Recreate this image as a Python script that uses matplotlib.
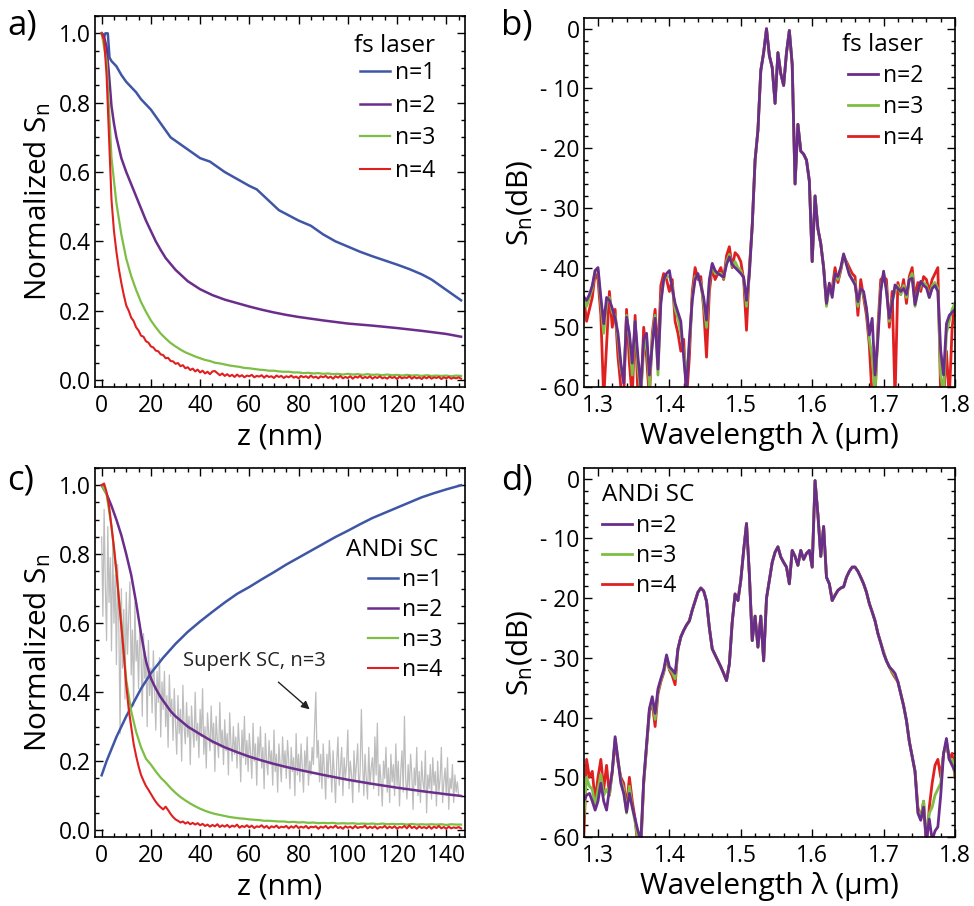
import numpy as np
import matplotlib.pyplot as plt
from matplotlib.ticker import MultipleLocator

plt.rcParams['font.family'] = ['Open Sans', 'DejaVu Sans']
plt.rcParams['mathtext.fontset'] = 'custom'
plt.rcParams['mathtext.rm'] = 'Open Sans'
plt.rcParams['mathtext.it'] = 'Open Sans'

BLUE = '#3F56A6'
PURPLE = '#6A2D8C'
GREEN = '#7DBE44'
RED = '#E02020'
GREY = '#BDBDBD'

# ---------------- panel a: fs laser, approach curves ----------------
z_a_n1 = [0, 1, 1.5, 2.5, 3.2, 4, 6, 8, 10, 12, 14, 16, 18, 20, 22, 24, 26, 28, 30, 32, 35, 38, 40,
          44, 47, 50, 55, 60, 63, 66, 69, 72, 76, 80, 85, 90, 95, 100, 105, 110, 115, 120, 125,
          130, 134, 138, 142, 146]
a_n1 = [1.0, 0.99, 1.0, 1.0, 0.93, 0.92, 0.905, 0.88, 0.86, 0.845, 0.83, 0.81, 0.795, 0.78, 0.76,
        0.74, 0.72, 0.70, 0.69, 0.68, 0.665, 0.65, 0.64, 0.63, 0.615, 0.60, 0.58, 0.56, 0.55, 0.53,
        0.51, 0.49, 0.475, 0.46, 0.445, 0.42, 0.40, 0.385, 0.37, 0.357, 0.345, 0.333, 0.32, 0.305,
        0.29, 0.27, 0.25, 0.23]

z_a_n2 = [0, 1, 2, 3, 4, 5, 6, 8, 10, 12, 14, 16, 18, 20, 22, 24, 26, 28, 30, 35, 40, 45, 50, 55,
          60, 65, 70, 75, 80, 90, 100, 110, 120, 130, 140, 146]
a_n2 = [1.0, 0.99, 0.96, 0.88, 0.79, 0.74, 0.70, 0.64, 0.60, 0.565, 0.53, 0.495, 0.46, 0.43, 0.40,
        0.375, 0.352, 0.335, 0.318, 0.285, 0.262, 0.245, 0.232, 0.222, 0.212, 0.203, 0.195, 0.188,
        0.182, 0.172, 0.163, 0.157, 0.15, 0.142, 0.133, 0.125]

z_a_n3 = list(range(0, 147, 2))
a_n3 = [1.0, 0.92, 0.64, 0.51, 0.42, 0.35, 0.30, 0.26, 0.225, 0.197, 0.172, 0.152, 0.134, 0.12,
        0.107, 0.097, 0.088, 0.08, 0.074, 0.068, 0.063, 0.058, 0.055, 0.05, 0.048, 0.045, 0.042,
        0.04, 0.038, 0.035, 0.034, 0.032, 0.03, 0.029, 0.027, 0.027, 0.025, 0.024, 0.024, 0.022,
        0.022, 0.02, 0.021, 0.019, 0.02, 0.018, 0.019, 0.017, 0.018, 0.016, 0.018, 0.016, 0.017,
        0.015, 0.017, 0.015, 0.016, 0.014, 0.016, 0.014, 0.015, 0.013, 0.015, 0.013, 0.014, 0.012,
        0.014, 0.012, 0.013, 0.012, 0.013, 0.011, 0.013, 0.012]

z_a_n4 = list(range(0, 147))
a_n4 = [1.0, 0.98, 0.88, 0.70, 0.52, 0.43, 0.37, 0.32, 0.28, 0.245,
        0.215, 0.2, 0.18, 0.17, 0.152, 0.143, 0.128, 0.125, 0.112, 0.108,
        0.097, 0.094, 0.085, 0.083, 0.074, 0.072, 0.063, 0.064, 0.055, 0.054,
        0.047, 0.049, 0.04, 0.043, 0.034, 0.037, 0.029, 0.033, 0.025, 0.03,
        0.022, 0.027, 0.019, 0.024, 0.017, 0.025, 0.026, 0.02, 0.014, 0.019,
        0.012, 0.017, 0.011, 0.015, 0.009, 0.016, 0.01, 0.014, 0.008, 0.013,
        0.011, 0.015, 0.008, 0.012, 0.01, 0.014, 0.007, 0.013, 0.009, 0.011,
        0.006, 0.013, 0.009, 0.012, 0.006, 0.011, 0.008, 0.013, 0.007, 0.01,
        0.005, 0.012, 0.008, 0.011, 0.006, 0.013, 0.007, 0.01, 0.005, 0.011,
        0.008, 0.012, 0.006, 0.01, 0.004, 0.011, 0.007, 0.012, 0.005, 0.009,
        0.006, 0.011, 0.004, 0.01, 0.007, 0.012, 0.005, 0.009, 0.006, 0.011,
        0.004, 0.009, 0.006, 0.011, 0.005, 0.008, 0.004, 0.01, 0.006, 0.009,
        0.003, 0.01, 0.005, 0.008, 0.006, 0.011, 0.004, 0.009, 0.005, 0.008,
        0.003, 0.009, 0.005, 0.01, 0.004, 0.008, 0.006, 0.009, 0.003, 0.008,
        0.005, 0.009, 0.004, 0.007, 0.005, 0.008, 0.004]

# ---------------- panel c: ANDi SC, approach curves ----------------
z_c_n1 = [0, 2, 4, 6, 8, 10, 13, 16, 20, 25, 30, 35, 40, 45, 50, 55, 60, 65, 70, 75, 80, 85, 90,
          95, 100, 105, 110, 115, 120, 125, 130, 135, 140, 146]
c_n1 = [0.159, 0.2, 0.235, 0.27, 0.3, 0.33, 0.37, 0.41, 0.455, 0.5, 0.54, 0.575, 0.605, 0.633,
        0.66, 0.685, 0.705, 0.727, 0.748, 0.77, 0.79, 0.81, 0.83, 0.85, 0.868, 0.887, 0.905, 0.92,
        0.935, 0.95, 0.965, 0.977, 0.988, 1.0]

z_c_n2 = [0, 2, 4, 6, 8, 10, 12, 14, 16, 18, 20, 22, 24, 26, 28, 30, 35, 40, 45, 50, 55, 60, 65,
          70, 75, 80, 90, 100, 110, 120, 130, 140, 146]
c_n2 = [1.0, 0.975, 0.94, 0.9, 0.855, 0.8, 0.74, 0.66, 0.57, 0.49, 0.44, 0.41, 0.385, 0.365,
        0.345, 0.33, 0.3, 0.278, 0.257, 0.24, 0.226, 0.213, 0.202, 0.192, 0.183, 0.175, 0.16,
        0.146, 0.134, 0.123, 0.113, 0.104, 0.099]

z_c_n3 = list(range(0, 147, 2))
c_n3 = [1.0, 0.975, 0.88, 0.75, 0.6, 0.435, 0.345, 0.285, 0.24, 0.207, 0.19, 0.17, 0.152, 0.138,
        0.122, 0.108, 0.096, 0.086, 0.077, 0.069, 0.062, 0.056, 0.051, 0.047, 0.044, 0.041, 0.038,
        0.036, 0.034, 0.033, 0.031, 0.03, 0.029, 0.027, 0.027, 0.026, 0.025, 0.025, 0.023, 0.024,
        0.022, 0.023, 0.021, 0.022, 0.02, 0.021, 0.02, 0.021, 0.019, 0.02, 0.019, 0.02, 0.018,
        0.019, 0.018, 0.019, 0.017, 0.019, 0.017, 0.018, 0.017, 0.018, 0.016, 0.018, 0.016, 0.017,
        0.016, 0.017, 0.016, 0.017, 0.015, 0.017, 0.016, 0.016]

z_c_n4 = list(range(0, 147))
c_n4 = [1.0, 1.005, 0.98, 0.94, 0.88, 0.82, 0.75, 0.67, 0.59, 0.51,
        0.42, 0.35, 0.3, 0.25, 0.215, 0.185, 0.16, 0.143, 0.128, 0.117,
        0.105, 0.093, 0.082, 0.073, 0.066, 0.06, 0.068, 0.058, 0.047, 0.038,
        0.031, 0.027, 0.022, 0.025, 0.019, 0.023, 0.017, 0.021, 0.016, 0.02,
        0.014, 0.018, 0.012, 0.016, 0.01, 0.015, 0.011, 0.017, 0.009, 0.014,
        0.01, 0.015, 0.008, 0.013, 0.01, 0.016, 0.007, 0.012, 0.009, 0.014,
        0.008, 0.013, 0.006, 0.011, 0.009, 0.014, 0.007, 0.012, 0.005, 0.011,
        0.008, 0.013, 0.006, 0.01, 0.008, 0.012, 0.005, 0.011, 0.007, 0.013,
        0.006, 0.01, 0.007, 0.012, 0.005, 0.01, 0.008, 0.011, 0.004, 0.01,
        0.007, 0.012, 0.005, 0.01, 0.007, 0.013, 0.006, 0.009, 0.004, 0.011,
        0.007, 0.01, 0.005, 0.012, 0.006, 0.009, 0.008, 0.013, 0.005, 0.01,
        0.006, 0.011, 0.004, 0.009, 0.007, 0.012, 0.005, 0.01, 0.006, 0.011,
        0.004, 0.009, 0.007, 0.012, 0.005, 0.014, 0.006, 0.01, 0.004, 0.011,
        0.006, 0.009, 0.005, 0.011, 0.004, 0.01, 0.006, 0.012, 0.005, 0.009,
        0.004, 0.01, 0.005, 0.008, 0.006, 0.009, 0.005]

# SuperK SC n=3 reference trace, sampled every 0.5 nm
z_superk = np.arange(0, 145.5, 0.5)
superk_n3 = [0.85, 0.62, 0.93, 0.71, 0.55, 0.88, 0.66, 0.79, 0.52, 0.84,
             0.60, 0.74, 0.48, 0.77, 0.58, 0.28, 0.70, 0.47, 0.64, 0.38,
             0.69, 0.51, 0.62, 0.72, 0.45, 0.58, 0.36, 0.66, 0.49, 0.55,
             0.41, 0.60, 0.52, 0.33, 0.57, 0.44, 0.50, 0.30, 0.55, 0.39,
             0.47, 0.34, 0.52, 0.41, 0.29, 0.46, 0.37, 0.50, 0.27, 0.43,
             0.35, 0.46, 0.30, 0.39, 0.24, 0.45, 0.33, 0.38, 0.26, 0.41,
             0.31, 0.22, 0.39, 0.28, 0.35, 0.20, 0.42, 0.30, 0.25, 0.37,
             0.27, 0.33, 0.19, 0.36, 0.29, 0.24, 0.40, 0.26, 0.31, 0.21,
             0.35, 0.27, 0.41, 0.22, 0.30, 0.18, 0.34, 0.28, 0.23, 0.36,
             0.25, 0.31, 0.17, 0.33, 0.26, 0.21, 0.37, 0.24, 0.29, 0.19,
             0.32, 0.23, 0.28, 0.16, 0.34, 0.25, 0.20, 0.30, 0.22, 0.27,
             0.18, 0.31, 0.24, 0.14, 0.29, 0.21, 0.33, 0.19, 0.26, 0.17,
             0.28, 0.22, 0.15, 0.31, 0.20, 0.25, 0.13, 0.27, 0.21, 0.30,
             0.18, 0.24, 0.12, 0.28, 0.20, 0.16, 0.26, 0.19, 0.23, 0.13,
             0.29, 0.17, 0.22, 0.11, 0.25, 0.19, 0.14, 0.27, 0.18, 0.23,
             0.15, 0.26, 0.20, 0.12, 0.24, 0.17, 0.21, 0.10, 0.28, 0.16,
             0.22, 0.14, 0.25, 0.18, 0.11, 0.23, 0.17, 0.27, 0.13, 0.20,
             0.16, 0.24, 0.19, 0.30, 0.40, 0.21, 0.26, 0.14, 0.22, 0.12,
             0.25, 0.17, 0.09, 0.22, 0.15, 0.26, 0.19, 0.11, 0.23, 0.16,
             0.08, 0.20, 0.27, 0.13, 0.18, 0.24, 0.10, 0.21, 0.15, 0.19,
             0.29, 0.12, 0.20, 0.16, 0.08, 0.23, 0.14, 0.19, 0.25, 0.11,
             0.17, 0.35, 0.20, 0.10, 0.22, 0.15, 0.09, 0.24, 0.13, 0.18,
             0.21, 0.12, 0.27, 0.16, 0.31, 0.10, 0.19, 0.14, 0.07, 0.20,
             0.15, 0.24, 0.11, 0.18, 0.08, 0.22, 0.14, 0.19, 0.10, 0.25,
             0.13, 0.20, 0.07, 0.17, 0.23, 0.11, 0.33, 0.15, 0.09, 0.19,
             0.12, 0.22, 0.16, 0.06, 0.18, 0.13, 0.24, 0.10, 0.17, 0.08,
             0.20, 0.14, 0.11, 0.23, 0.05, 0.16, 0.12, 0.19, 0.09, 0.21,
             0.13, 0.17, 0.07, 0.20, 0.11, 0.15, 0.24, 0.08, 0.14, 0.18,
             0.10, 0.21, 0.06, 0.15, 0.12, 0.19, 0.08, 0.16, 0.11, 0.14,
             0.10]

# ---------------- panels b, d: spectra (dB), wavelength grid 1.280..1.800 step 0.004 ----------------
wl = np.round(np.linspace(1.28, 1.80, 131), 3)

b_n2 = [-44.9, -45.5, -44.5, -43.0, -40.5, -40.0, -45.0, -49.4, -45.0, -45.5,
        -46.8, -48.5, -51.0, -56.0, -59.4, -48.3, -51.0, -56.0, -49.0, -55.0,
        -60.0, -52.0, -51.0, -58.0, -53.0, -48.5, -57.0, -46.0, -42.0, -41.0,
        -40.5, -43.5, -46.0, -47.5, -49.0, -55.0, -60.5, -52.0, -45.5, -42.0,
        -41.0, -43.0, -45.0, -48.8, -42.0, -39.3, -40.5, -41.0, -41.3, -41.6,
        -39.5, -38.2, -39.5, -40.0, -40.5, -41.0, -41.6, -45.5, -41.0, -33.0,
        -22.0, -17.0, -7.0, -4.0, 0.0, -4.5, -6.5, -12.5, -4.0, -7.5,
        -9.5, -4.0, -0.3, -6.0, -26.0, -16.0, -20.5, -21.0, -22.0, -25.5,
        -39.0, -28.0, -33.5, -36.0, -40.0, -46.0, -42.6, -45.0, -41.0, -41.5,
        -40.0, -37.7, -39.5, -41.2, -42.0, -42.9, -45.7, -43.5, -44.0, -46.8,
        -51.3, -48.5, -58.0, -52.0, -44.0, -40.6, -44.0, -48.5, -46.0, -42.9,
        -43.5, -44.0, -43.5, -44.5, -42.0, -41.8, -46.2, -44.0, -42.3, -43.0,
        -43.4, -45.0, -43.5, -43.0, -44.0, -53.9, -58.0, -49.4, -48.0, -47.5,
        -47.0]
b_n3 = [-44.9, -46.5, -45.0, -43.5, -40.5, -40.5, -46.0, -51.0, -46.0, -45.0,
        -47.5, -48.0, -52.0, -57.0, -59.0, -48.0, -52.0, -58.0, -49.0, -57.0,
        -61.0, -54.0, -52.0, -60.0, -52.0, -48.0, -58.0, -45.5, -42.0, -41.5,
        -41.5, -43.0, -47.0, -48.5, -51.0, -54.0, -58.0, -53.0, -45.0, -41.5,
        -41.5, -42.5, -46.0, -50.0, -42.5, -39.5, -41.0, -41.0, -41.0, -41.8,
        -39.0, -37.8, -39.8, -39.0, -40.0, -40.5, -41.8, -46.5, -41.0, -33.0,
        -22.0, -17.0, -7.0, -4.0, 0.0, -4.5, -6.5, -12.5, -4.0, -7.5,
        -9.5, -4.0, -0.3, -6.0, -26.0, -16.0, -20.5, -21.0, -22.0, -25.5,
        -39.0, -28.0, -33.5, -36.0, -40.0, -46.5, -43.0, -44.5, -41.0, -42.0,
        -40.2, -38.0, -39.3, -41.0, -42.0, -42.5, -46.5, -43.5, -44.5, -47.0,
        -52.0, -55.0, -61.0, -51.0, -43.5, -41.0, -43.5, -49.0, -45.5, -44.0,
        -43.0, -44.5, -43.0, -45.0, -42.0, -41.0, -46.5, -44.0, -43.0, -42.5,
        -43.0, -45.0, -43.0, -42.5, -43.5, -58.0, -61.0, -51.0, -49.0, -47.0,
        -46.0]
b_n4 = [-44.9, -49.0, -47.0, -45.0, -41.0, -42.0, -48.0, -62.0, -53.0, -44.0,
        -50.0, -47.0, -55.0, -60.0, -62.0, -47.0, -56.0, -62.0, -48.0, -62.0,
        -62.0, -50.0, -55.0, -62.0, -51.0, -47.0, -55.0, -43.0, -41.0, -42.0,
        -44.0, -42.0, -49.0, -51.0, -54.0, -52.0, -62.0, -55.0, -44.0, -40.0,
        -42.0, -41.5, -47.0, -55.0, -44.0, -40.0, -42.0, -41.0, -40.0, -42.0,
        -38.0, -36.5, -40.0, -37.5, -38.0, -39.0, -42.0, -50.5, -40.0, -33.0,
        -22.0, -17.0, -7.0, -4.0, 0.0, -4.5, -6.5, -12.5, -4.0, -7.5,
        -9.5, -4.0, -0.3, -6.0, -26.0, -16.0, -20.5, -21.0, -22.0, -25.5,
        -39.0, -28.0, -33.5, -36.0, -40.0, -46.0, -43.0, -43.5, -40.0, -42.5,
        -40.5, -38.0, -39.0, -40.0, -41.0, -41.5, -48.0, -42.0, -45.0, -48.0,
        -53.0, -62.0, -62.0, -50.0, -42.0, -41.5, -42.0, -50.0, -44.0, -62.0,
        -42.5, -44.5, -42.0, -46.0, -41.5, -40.0, -45.0, -42.5, -44.0, -41.5,
        -42.0, -44.0, -42.0, -41.0, -40.0, -62.0, -62.0, -54.0, -62.0, -50.0,
        -46.0]

d_n2 = [-54.0, -53.0, -52.7, -54.0, -55.5, -54.0, -51.0, -54.0, -55.5, -52.0,
        -49.0, -43.2, -47.0, -51.0, -52.7, -55.8, -52.7, -55.0, -57.0, -59.0,
        -60.5, -50.5, -44.4, -38.5, -36.5, -39.3, -35.2, -33.5, -32.0, -29.5,
        -31.5, -32.0, -32.6, -28.5, -26.5, -25.4, -24.5, -23.8, -22.0, -20.5,
        -19.0, -18.3, -18.8, -20.5, -25.0, -28.5, -29.5, -30.5, -31.5, -32.6,
        -33.8, -31.0, -24.0, -19.3, -20.4, -17.0, -12.0, -7.5, -16.0, -27.1,
        -23.0, -28.2, -23.0, -30.5, -20.0, -17.0, -14.0, -12.3, -11.4, -13.1,
        -14.0, -14.8, -17.6, -12.0, -13.0, -14.5, -12.0, -13.5, -12.5, -12.0,
        -14.8, -0.3, -6.0, -13.0, -8.0, -16.5, -17.6, -20.4, -19.5, -18.7,
        -18.3, -18.1, -16.5, -15.5, -14.8, -14.8, -15.5, -16.5, -17.6, -19.0,
        -20.9, -22.3, -23.8, -25.9, -27.5, -29.3, -30.5, -31.5, -32.0, -32.6,
        -34.0, -36.0, -38.0, -40.5, -44.0, -46.5, -49.0, -56.0, -57.2, -55.0,
        -60.5, -57.0, -60.5, -59.0, -58.3, -53.0, -46.0, -43.5, -47.0, -48.0,
        -49.0]
d_n3 = [-57.0, -50.0, -51.5, -52.0, -55.0, -52.0, -49.5, -53.0, -52.0, -53.0,
        -49.0, -43.5, -47.0, -50.5, -52.0, -56.0, -51.5, -55.0, -57.5, -60.5,
        -61.0, -51.0, -44.8, -38.8, -37.0, -40.3, -35.6, -33.8, -32.3, -29.8,
        -31.8, -32.5, -33.5, -28.5, -26.5, -25.4, -24.5, -23.8, -22.0, -20.5,
        -19.0, -18.3, -18.8, -20.5, -25.0, -28.5, -29.5, -30.5, -31.5, -32.6,
        -33.8, -31.0, -24.0, -19.3, -20.4, -17.0, -12.0, -7.5, -16.0, -27.1,
        -23.0, -28.2, -23.0, -30.5, -20.0, -17.0, -14.0, -12.3, -11.4, -13.1,
        -14.0, -14.8, -17.6, -12.0, -13.0, -14.5, -12.0, -13.5, -12.5, -12.0,
        -14.8, -0.3, -6.0, -13.0, -8.0, -16.5, -17.6, -20.4, -19.5, -18.7,
        -18.3, -18.1, -16.5, -15.5, -14.8, -14.8, -15.5, -16.5, -17.6, -19.0,
        -20.9, -22.3, -23.8, -25.9, -27.5, -29.0, -30.5, -31.5, -32.3, -33.0,
        -34.0, -36.0, -38.0, -40.5, -44.0, -46.5, -49.0, -55.5, -57.0, -54.0,
        -60.5, -56.0, -55.0, -53.0, -52.0, -51.0, -46.0, -44.0, -47.0, -47.0,
        -49.5]
d_n4 = [-60.5, -47.0, -50.0, -49.0, -54.0, -50.0, -47.0, -52.0, -48.0, -53.0,
        -49.0, -44.0, -47.5, -50.0, -51.0, -55.0, -50.0, -54.0, -57.0, -62.0,
        -62.0, -51.0, -45.0, -39.0, -37.5, -41.5, -36.0, -34.0, -32.5, -30.0,
        -32.0, -33.0, -34.5, -28.5, -26.5, -25.4, -24.5, -23.8, -22.0, -20.5,
        -19.0, -18.3, -18.8, -20.5, -25.0, -28.5, -29.5, -30.5, -31.5, -32.6,
        -33.8, -31.0, -24.0, -19.3, -20.4, -17.0, -12.0, -7.5, -16.0, -27.1,
        -23.0, -28.2, -23.0, -30.5, -20.0, -17.0, -14.0, -12.3, -11.4, -13.1,
        -14.0, -14.8, -17.6, -12.0, -13.0, -14.5, -12.0, -13.5, -12.5, -12.0,
        -14.8, -0.3, -6.0, -13.0, -8.0, -16.5, -17.6, -20.4, -19.5, -18.7,
        -18.3, -18.1, -16.5, -15.5, -14.8, -14.8, -15.5, -16.5, -17.6, -19.0,
        -20.9, -22.3, -23.8, -25.9, -27.5, -29.0, -30.5, -31.5, -32.5, -33.3,
        -34.0, -36.0, -38.0, -40.5, -44.0, -46.5, -49.0, -55.0, -57.0, -54.0,
        -62.0, -55.0, -51.0, -48.0, -47.0, -50.0, -46.0, -44.5, -47.0, -46.0,
        -50.0]

db_ticks = [0, -10, -20, -30, -40, -50, -60]
db_labels = ['0', '- 10', '- 20', '- 30', '- 40', '- 50', '- 60']

TICK_FS = 16.5
LABEL_FS = 21.5
LEG_FS = 16.5
LEG_TITLE_FS = 17.5

fig = plt.figure(figsize=(9.74, 9.06), dpi=100)
ax_a = fig.add_axes([95 / 974, 1 - 387 / 906, 370 / 974, 371 / 906])
ax_b = fig.add_axes([584 / 974, 1 - 387 / 906, 371 / 974, 369 / 906])
ax_c = fig.add_axes([95 / 974, 1 - 837 / 906, 370 / 974, 369 / 906])
ax_d = fig.add_axes([584 / 974, 1 - 837 / 906, 371 / 974, 369 / 906])


def style(ax):
    for s in ax.spines.values():
        s.set_linewidth(1.2)
    ax.tick_params(which='both', direction='in', top=True, right=True, width=1.0)
    ax.tick_params(which='major', length=6, labelsize=TICK_FS)
    ax.tick_params(axis='x', which='major', pad=5)
    ax.tick_params(axis='y', which='major', pad=3)
    ax.tick_params(which='minor', length=3)


lw = 1.8
for ax, zs in [(ax_a, 'a'), (ax_c, 'c')]:
    if zs == 'a':
        ax.plot(z_a_n1, a_n1, color=BLUE, lw=lw, label='n=1')
        ax.plot(z_a_n2, a_n2, color=PURPLE, lw=lw, label='n=2')
        ax.plot(z_a_n3, a_n3, color=GREEN, lw=1.6, label='n=3')
        ax.plot(z_a_n4, a_n4, color=RED, lw=1.5, label='n=4')
    else:
        ax.plot(z_superk, superk_n3, color=GREY, lw=0.9)
        ax.plot(z_c_n1, c_n1, color=BLUE, lw=lw, label='n=1')
        ax.plot(z_c_n2, c_n2, color=PURPLE, lw=lw, label='n=2')
        ax.plot(z_c_n3, c_n3, color=GREEN, lw=1.6, label='n=3')
        ax.plot(z_c_n4, c_n4, color=RED, lw=1.5, label='n=4')
    ax.set_xlim(-2.7, 147.6)
    ax.set_ylim(-0.02, 1.05)
    ax.set_xticks(range(0, 141, 20))
    ax.set_yticks([0, 0.2, 0.4, 0.6, 0.8, 1.0])
    ax.set_yticklabels(['0.0', '0.2', '0.4', '0.6', '0.8', '1.0'])
    ax.xaxis.set_minor_locator(MultipleLocator(5))
    ax.yaxis.set_minor_locator(MultipleLocator(0.05))
    ax.set_xlabel('z (nm)', fontsize=LABEL_FS, labelpad=3)
    ax.set_ylabel('Normalized S$_\\mathregular{n}$', fontsize=LABEL_FS, labelpad=4)
    style(ax)

leg_kw = dict(frameon=False, fontsize=LEG_FS, handlelength=1.3, handletextpad=0.2, borderpad=0,
              borderaxespad=0)
ax_a.legend(loc='upper right', bbox_to_anchor=(0.919, 0.878), labelspacing=0.37, **leg_kw)
ax_a.text(0.919, 0.919, 'fs laser', transform=ax_a.transAxes, ha='right', va='center',
          fontsize=LEG_TITLE_FS)
ax_c.legend(loc='upper right', bbox_to_anchor=(0.94, 0.728), labelspacing=0.25, **leg_kw)
ax_c.text(0.927, 0.778, 'ANDi SC', transform=ax_c.transAxes, ha='right', va='center',
          fontsize=LEG_TITLE_FS)

ax_c.annotate('SuperK SC, n=3', xy=(84.5, 0.35), xytext=(62, 0.49), fontsize=14.5,
              ha='center', va='center', color='#222222',
              arrowprops=dict(arrowstyle='-|>', color='#222222', lw=1.0, shrinkA=9, shrinkB=0,
                              mutation_scale=12))

for ax, s2, s3, s4, title, loc, anchor, tpos, halign, sp in [
        (ax_b, b_n2, b_n3, b_n4, 'fs laser', 'upper right', (0.914, 0.876), (0.914, 0.927),
         'right', 0.31),
        (ax_d, d_n2, d_n3, d_n4, 'ANDi SC', 'upper left', (0.0485, 0.876), (0.0485, 0.927),
         'left', 0.27)]:
    l4, = ax.plot(wl, s4, color=RED, lw=2.0)
    l3, = ax.plot(wl, s3, color=GREEN, lw=2.0)
    l2, = ax.plot(wl, s2, color=PURPLE, lw=2.0)
    ax.set_xlim(1.2804, 1.80)
    ax.set_ylim(-60, 1.8)
    ax.set_xticks([1.3, 1.4, 1.5, 1.6, 1.7, 1.8])
    ax.set_xticklabels(['1.3', '1.4', '1.5', '1.6', '1.7', '1.8'])
    ax.set_yticks(db_ticks)
    ax.set_yticklabels(db_labels)
    ax.xaxis.set_minor_locator(MultipleLocator(0.02))
    ax.yaxis.set_minor_locator(MultipleLocator(2))
    ax.set_xlabel('Wavelength λ (µm)', fontsize=LABEL_FS, labelpad=3)
    ax.set_ylabel('S$_\\mathregular{n}$(dB)', fontsize=LABEL_FS, labelpad=4)
    style(ax)
    ax.legend([l2, l3, l4], ['n=2', 'n=3', 'n=4'], loc=loc, bbox_to_anchor=anchor,
              labelspacing=sp, **leg_kw)
    ax.text(tpos[0], tpos[1], title, transform=ax.transAxes, ha=halign, va='center',
            fontsize=LEG_TITLE_FS)

for txt, x, y in [('a)', 7, 25), ('b)', 501, 25), ('c)', 7, 480), ('d)', 501, 480)]:
    fig.text(x / 974, 1 - y / 906, txt, fontsize=25, va='center', ha='left')

fig.savefig('out.png', dpi=100)
